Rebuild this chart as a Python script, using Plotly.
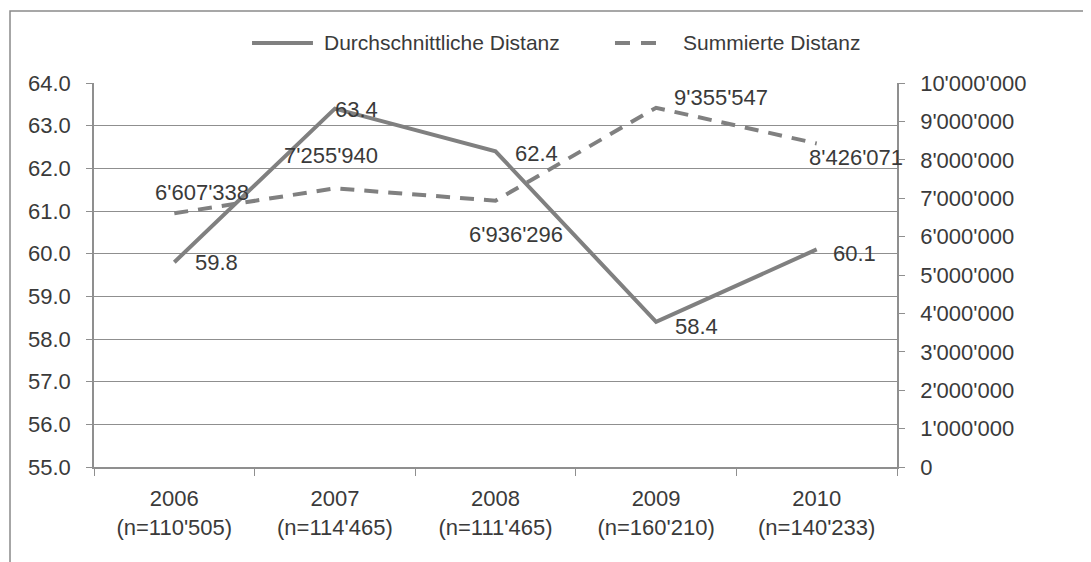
import plotly.graph_objects as go

years = ["2006", "2007", "2008", "2009", "2010"]
n_labels = ["(n=110'505)", "(n=114'465)", "(n=111'465)", "(n=160'210)", "(n=140'233)"]
avg_dist = [59.8, 63.4, 62.4, 58.4, 60.1]
sum_dist = [6607338, 7255940, 6936296, 9355547, 8426071]
sum_text = ["6'607'338", "7'255'940", "6'936'296", "9'355'547", "8'426'071"]
right_ticks = [0, 1000000, 2000000, 3000000, 4000000, 5000000, 6000000, 7000000, 8000000, 9000000, 10000000]
right_ticktext = ["0", "1'000'000", "2'000'000", "3'000'000", "4'000'000", "5'000'000",
                  "6'000'000", "7'000'000", "8'000'000", "9'000'000", "10'000'000"]
series_names = ["Durchschnittliche Distanz", "Summierte Distanz"]

cats = [f"{y}<br>{n}" for y, n in zip(years, n_labels)]

FONT = "Liberation Sans"
TXT = "#3a3a3a"
LINE = "#808080"
GRID = "#8f8f8f"
DASH = "14px,10px"

fig = go.Figure()
fig.add_trace(go.Scatter(x=cats, y=avg_dist, mode="lines", name=series_names[0],
                         line=dict(color=LINE, width=4), yaxis="y", showlegend=False))
fig.add_trace(go.Scatter(x=cats, y=sum_dist, mode="lines", name=series_names[1],
                         line=dict(color=LINE, width=4, dash=DASH), yaxis="y2", showlegend=False))

# data labels (offsets in px: dx right, dy down)
avg_off = [(42, 0), (22, 1), (41, 2), (40, 5), (38, 4)]
sum_off = [(28, -21), (-4, -33), (20, 34), (65, -10), (39, 14)]
for c, v, (dx, dy) in zip(cats, avg_dist, avg_off):
    fig.add_annotation(x=c, y=v, xref="x", yref="y", text=f"{v:.1f}", showarrow=False,
                       xshift=dx, yshift=-dy, font=dict(family=FONT, size=22, color=TXT))
for c, v, t, (dx, dy) in zip(cats, sum_dist, sum_text, sum_off):
    fig.add_annotation(x=c, y=v, xref="x", yref="y2", text=t, showarrow=False,
                       xshift=dx, yshift=-dy, font=dict(family=FONT, size=22, color=TXT))

# legend drawn at top (line samples + labels)
LEG_Y = 1.1042
fig.add_shape(type="line", xref="paper", yref="paper", x0=0.1968, x1=0.2727, y0=LEG_Y, y1=LEG_Y,
              line=dict(color=LINE, width=4))
fig.add_shape(type="line", xref="paper", yref="paper", x0=0.6488, x1=0.7049, y0=LEG_Y, y1=LEG_Y,
              line=dict(color=LINE, width=4, dash="15px,11px"))
fig.add_annotation(x=0.2840, y=LEG_Y, xref="paper", yref="paper", text=series_names[0],
                   showarrow=False, xanchor="left", yanchor="middle",
                   font=dict(family=FONT, size=21, color=TXT))
fig.add_annotation(x=0.7310, y=LEG_Y, xref="paper", yref="paper", text=series_names[1],
                   showarrow=False, xanchor="left", yanchor="middle",
                   font=dict(family=FONT, size=21, color=TXT))

# outer frame
fig.add_shape(type="rect", xref="paper", yref="paper", x0=-0.1046, x1=1.3, y0=-0.4, y1=1.1875,
              line=dict(color="#8a8a8a", width=1.5), layer="below")

# page body has an 8px margin, so the figure is sized/placed to compensate
fig.update_layout(
    width=1083, height=554,
    margin=dict(l=86, r=194, t=75, b=95, autoexpand=False),
    paper_bgcolor="white", plot_bgcolor="white",
    font=dict(family=FONT, size=21, color=TXT),
    showlegend=False,
    xaxis=dict(type="category", range=[-0.5, 4.5], tickson="boundaries", ticks="outside", ticklen=7,
               tickcolor=GRID, showline=True, linecolor=GRID, linewidth=1.5,
               showgrid=False, ticklabelstandoff=11,
               tickfont=dict(family=FONT, size=22, color=TXT)),
    yaxis=dict(range=[55, 64], dtick=1, tickformat=".1f", showgrid=True, gridcolor=GRID,
               gridwidth=1.2, showline=True, linecolor=GRID, linewidth=1.5, ticks="outside",
               ticklen=6, tickcolor=GRID, zeroline=False, ticklabelstandoff=11,
               tickfont=dict(family=FONT, size=22, color=TXT)),
    yaxis2=dict(range=[0, 10000000], overlaying="y", side="right", tickvals=right_ticks,
                ticktext=right_ticktext, showgrid=False, showline=True, linecolor=GRID,
                linewidth=1.5, ticks="outside", ticklen=6, tickcolor=GRID, zeroline=False,
                ticklabelstandoff=11, tickfont=dict(family=FONT, size=22, color=TXT)),
)

fig.write_html("out.html")
